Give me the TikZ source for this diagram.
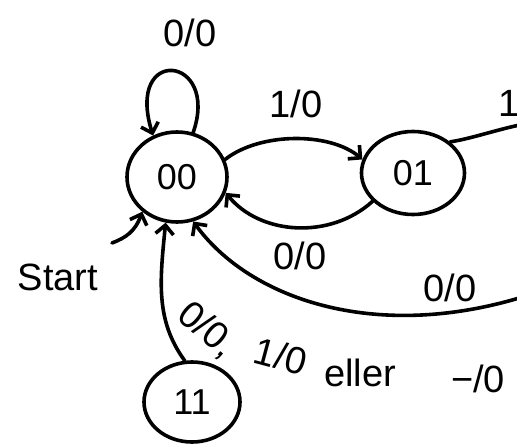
\documentclass[tikz,border=0pt]{standalone}
\usepackage{fontspec}
\setmainfont{Liberation Sans}
\usetikzlibrary{arrows.meta,shapes.geometric}
\begin{document}
\begin{tikzpicture}[x=1pt,y=-1pt,
  line width=3.6pt, line cap=round, line join=round,
  state/.style={draw, ellipse, inner sep=0pt, font=\fontsize{36}{38}\selectfont},
  lbl/.style={font=\fontsize{38}{40}\selectfont, inner sep=0pt},
  arr/.style={-{Straight Barb[length=9pt,width=18pt]}}]
\useasboundingbox (0,0) rectangle (517,444);
\clip (0,0) rectangle (517,444);

% states
\node[state, minimum width=100pt, minimum height=90pt] (s00) at (177,177) {00};
\node[state, minimum width=103pt, minimum height=83pt] (s01) at (413,173) {01};
\node[state, minimum width=96pt, minimum height=80pt] (s11) at (192,402) {11};

% free ends
\coordinate (start) at (112,243);
\coordinate (out10) at (535,122);
\coordinate (in10) at (535,293);

% transitions
\draw[arr] (s00.70) .. controls (220,55) and (125,45) .. (s00.120);
\draw[arr] (s00.20) .. controls (260,132) and (330,132) .. (s01.165);
\draw[arr] (s01.215) .. controls (330,240) and (260,235) .. (s00.-18);
\draw (s01.40) .. controls (475,138) and (500,128) .. (out10);
\draw[arr] (in10) .. controls (380,345) and (250,300) .. (s00.-70);
\draw[arr] (s11.100) .. controls (155,320) and (160,280) .. (s00.-104);
\draw[arr] (start) .. controls (125,238) and (135,232) .. (s00.-135);

% labels
\node[lbl] (l1) at (190,33) {0/0};
\node[lbl] (l2) at (296,104) {1/0};
\node[lbl] (l3) at (300,256) {0/0};
\node[lbl, anchor=west] (l4) at (497,103) {1/0};
\node[lbl] (l5) at (450,288) {0/0};
\node[lbl] (l6) at (58,277) {Start};
\node[lbl, rotate=-40] (l7) at (207,330) {0/0,};
\node[lbl, rotate=-15] (l8) at (281,356) {1/0};
\node[lbl] (l9) at (360,373) {eller};
\node[lbl] (l10) at (478,379) {−/0};
\end{tikzpicture}
\end{document}
